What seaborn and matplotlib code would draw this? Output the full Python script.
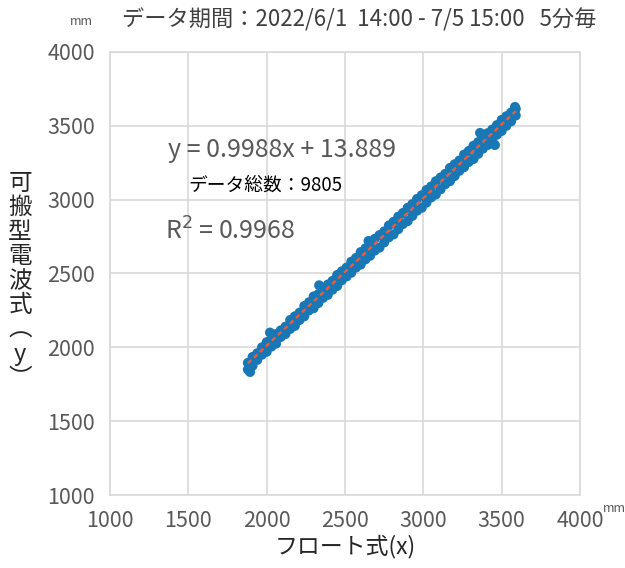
import numpy as np
import matplotlib
matplotlib.use('Agg')
import matplotlib.pyplot as plt
import seaborn as sns

obs_x = [1880, 1880, 1910, 1910, 1940, 1940, 1970, 1970, 2000, 2000,
         2030, 2030, 2060, 2060, 2090, 2090, 2120, 2120, 2150, 2150,
         2180, 2180, 2210, 2210, 2240, 2240, 2270, 2270, 2300, 2300,
         2330, 2330, 2360, 2360, 2390, 2390, 2420, 2420, 2450, 2450,
         2480, 2480, 2510, 2510, 2540, 2540, 2570, 2570, 2600, 2600,
         2630, 2630, 2660, 2660, 2690, 2690, 2720, 2720, 2750, 2750,
         2780, 2780, 2810, 2810, 2840, 2840, 2870, 2870, 2900, 2900,
         2930, 2930, 2960, 2960, 2990, 2990, 3020, 3020, 3050, 3050,
         3080, 3080, 3110, 3110, 3140, 3140, 3170, 3170, 3200, 3200,
         3230, 3230, 3260, 3260, 3290, 3290, 3320, 3320, 3350, 3350,
         3380, 3380, 3410, 3410, 3440, 3440, 3470, 3470, 3500, 3500,
         3530, 3530, 3560, 3560, 3590, 3590,
         1894, 2021, 2335, 2650, 3362, 3457, 3585]
obs_y = [1895, 1850, 1935, 1875, 1960, 1915, 2000, 1950, 2035, 1970,
         2050, 2005, 2090, 2025, 2115, 2070, 2140, 2090, 2185, 2125,
         2210, 2145, 2235, 2185, 2280, 2210, 2305, 2250, 2345, 2265,
         2360, 2300, 2400, 2335, 2425, 2355, 2450, 2390, 2490, 2415,
         2515, 2455, 2540, 2480, 2580, 2505, 2605, 2540, 2645, 2560,
         2670, 2595, 2695, 2620, 2735, 2655, 2760, 2675, 2785, 2710,
         2825, 2745, 2850, 2765, 2885, 2800, 2910, 2835, 2945, 2855,
         2970, 2890, 3005, 2925, 3030, 2945, 3065, 2980, 3090, 3015,
         3125, 3035, 3150, 3070, 3175, 3105, 3215, 3125, 3240, 3160,
         3265, 3195, 3305, 3220, 3330, 3255, 3365, 3275, 3390, 3310,
         3415, 3345, 3450, 3370, 3475, 3405, 3505, 3440, 3540, 3465,
         3565, 3500, 3590, 3530, 3615, 3570,
         1833, 2100, 2420, 2720, 3452, 3370, 3628]

slope = 0.9988
intercept = 13.889
r2 = 0.9968
n_total = 9805

ticks = [1000, 1500, 2000, 2500, 3000, 3500, 4000]

sns.set_style('white')
plt.rcParams['font.family'] = ['Noto Sans CJK JP', 'DejaVu Sans']

fig = plt.figure(figsize=(6.25, 5.68), dpi=100)
ax = fig.add_axes([0.176, 0.1285, 0.752, 0.78])

grey = '#595959'
sns.scatterplot(x=obs_x, y=obs_y, ax=ax, color='#1878b6', s=52,
                edgecolor='none', zorder=3)

# trend line from the fitted equation shown on the chart
x_fit = np.array([min(obs_x), max(obs_x)])
ax.plot(x_fit, slope * x_fit + intercept, color='#ee5a3c', lw=1.7,
        linestyle=(0, (2, 1.5)), zorder=4)

ax.set_xlim(1000, 4000)
ax.set_ylim(1000, 4000)
ax.set_xticks(ticks)
ax.set_yticks(ticks)
ax.tick_params(length=0, labelsize=15.5, labelcolor=grey, pad=11)
ax.grid(True, color='#d9d9d9', lw=1.2)
for sp in ax.spines.values():
    sp.set_color('#d9d9d9')
    sp.set_linewidth(1.2)

ax.set_xlabel('フロート式(x)', fontsize=16.5, color='#262626', labelpad=2)

ax.text(1370, 3336, f'y = {slope}x + {intercept}', fontsize=18, color=grey,
        va='center')
ax.text(1498, 3099, f'データ総数：{n_total}', fontsize=13.5, color='black',
        va='center')
ax.text(1351, 2781, f'R$^2$ = {r2}', fontsize=18, color=grey, va='center')

fig.text(0.195, 0.965, 'データ期間：2022/6/1  14:00 - 7/5 15:00   5分毎',
         fontsize=16, color='#404040', va='center')
fig.text(0.112, 0.962, 'mm', fontsize=9, color=grey, va='center')
fig.text(0.965, 0.105, 'mm', fontsize=9, color=grey, va='center')
fig.text(0.032, 0.505, '\n'.join('可搬型電波式︵y︶'), fontsize=17,
         color='#262626', ha='center', va='center', linespacing=1.08)

fig.savefig('out.png', dpi=100)
